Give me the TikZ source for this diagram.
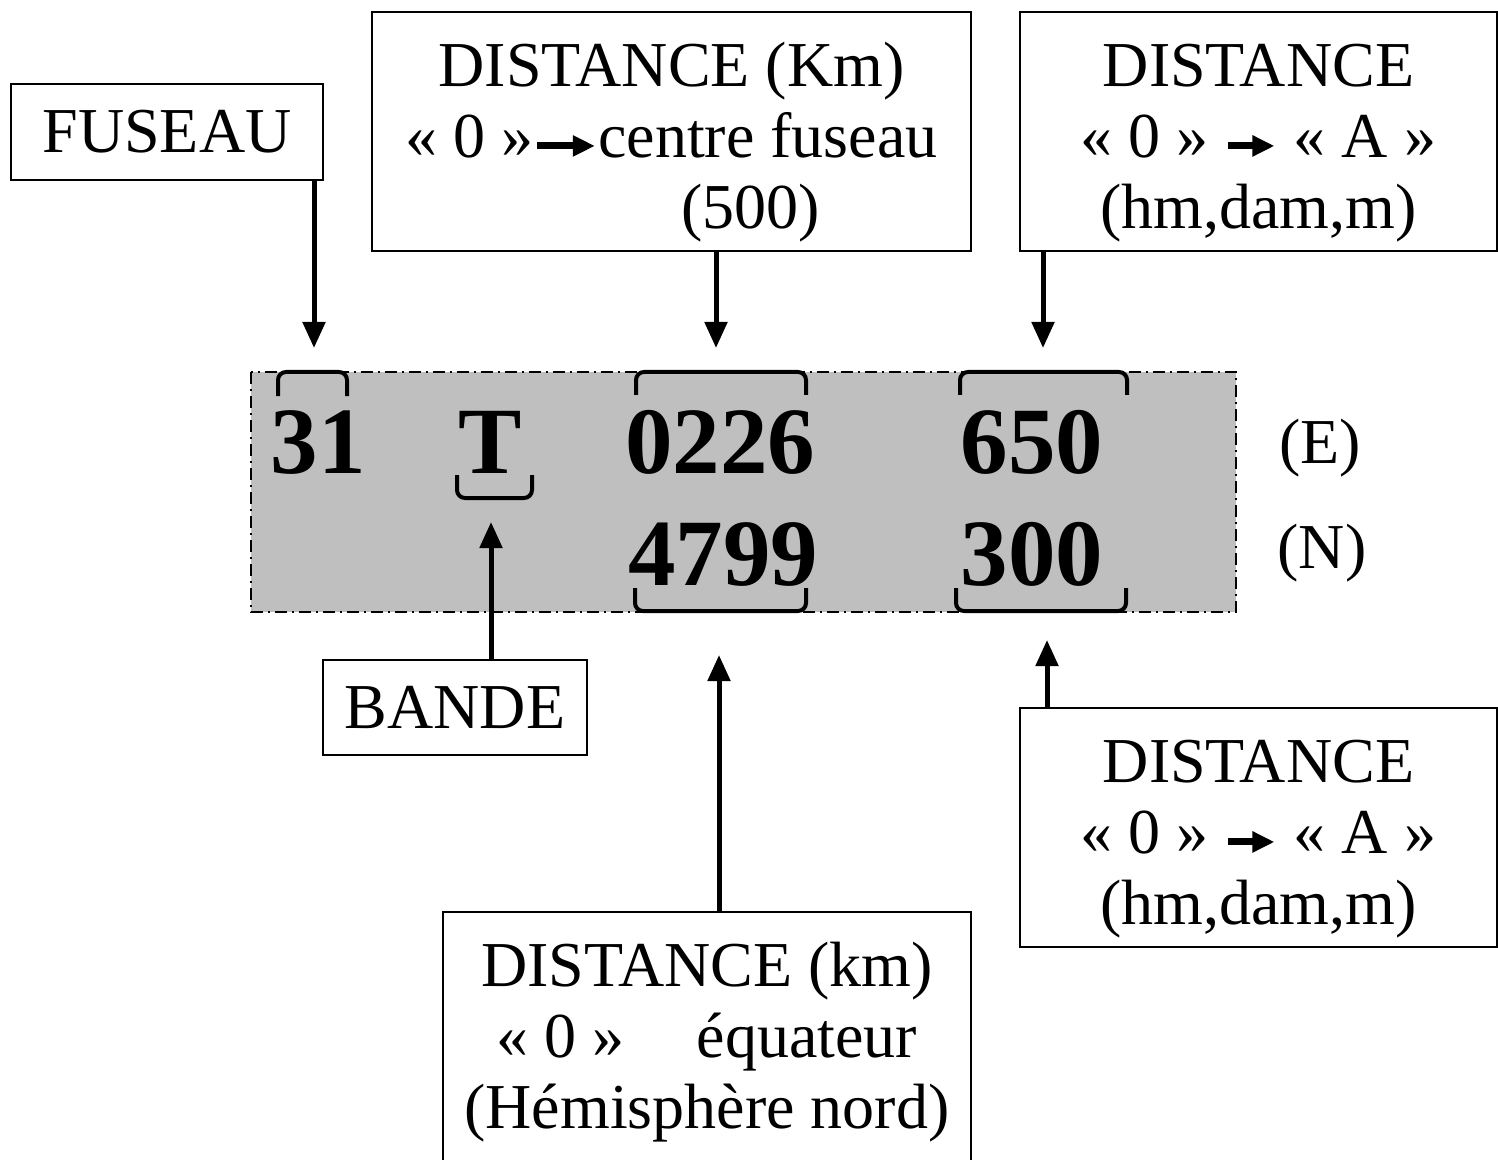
\documentclass[tikz,border=0pt]{standalone}
\usepackage{fontspec}
\setmainfont{Liberation Serif}
\usetikzlibrary{arrows.meta}
% petite fleche dans le texte
\newcommand{\fl}[1]{\tikz[baseline=-0.4ex]\draw[line width=3.5pt,-{Triangle[length=11pt,width=10pt]}] (0,0) -- (#1,0);}
\newcommand{\haut}{\rule{0pt}{33pt}}
\begin{document}
\begin{tikzpicture}[x=0.5pt,y=-0.5pt,
    boite/.style={draw,line width=0.75pt,align=center,inner sep=0pt,font=\fontsize{32}{35.5}\selectfont},
    chiffre/.style={anchor=base,inner sep=0pt,font=\fontsize{47.5}{50}\selectfont\bfseries},
    lettre/.style={anchor=base,inner sep=0pt,font=\fontsize{32}{35.5}\selectfont},
    fleche/.style={line width=2.5pt,-{Triangle[length=13pt,width=11pt]}},
    crochet/.style={line width=2pt,rounded corners=4pt}]
  \useasboundingbox (0,0) rectangle (1498,1160);
  % zone grisee
  \draw[fill=gray!50,line width=0.75pt,dash pattern=on 6pt off 2.5pt on 1pt off 2.5pt]
    (251,372) rectangle (1236,612);
  % coordonnees
  \node[chiffre] (n31) at (318,473) {31};
  \node[chiffre] (nT) at (490,473) {T};
  \node[chiffre] (nX) at (720,473) {0226};
  \node[chiffre] (nXm) at (1032,473) {650};
  \node[chiffre] (nY) at (723,585) {4799};
  \node[chiffre] (nYm) at (1032,585) {300};
  \node[lettre] (nE) at (1320,463) {(E)};
  \node[lettre] (nN) at (1322,568) {(N)};
  % crochets
  \draw[crochet] (278,396) -- (278,372) -- (347,372) -- (347,396);
  \draw[crochet] (457,475) -- (457,498) -- (532,498) -- (532,475);
  \draw[crochet] (636,395) -- (636,372) -- (806,372) -- (806,395);
  \draw[crochet] (960,395) -- (960,372) -- (1127,372) -- (1127,395);
  \draw[crochet] (635,588) -- (635,611) -- (806,611) -- (806,588);
  \draw[crochet] (956,588) -- (956,611) -- (1126,611) -- (1126,588);
  % boites
  \node[boite,minimum width=156pt,minimum height=48pt] (fuseau) at (167,132) {FUSEAU};
  \node[boite,minimum width=299.5pt,minimum height=119.5pt] (distkm) at (671.5,131.5)
    {\haut DISTANCE (Km)\\ « 0 »\fl{29pt}centre fuseau\\ \hspace*{79pt}(500)};
  \node[boite,minimum width=238.5pt,minimum height=119.5pt] (distE) at (1258.5,131.5)
    {\haut DISTANCE\\ « 0 » \fl{23pt} « A »\\ (hm,dam,m)};
  \node[boite,minimum width=132pt,minimum height=47.5pt] (bande) at (455,707.5) {BANDE};
  \node[boite,minimum width=238.5pt,minimum height=119.5pt] (distN) at (1258.5,827.5)
    {\haut DISTANCE\\ « 0 » \fl{23pt} « A »\\ (hm,dam,m)};
  \node[boite,minimum width=264pt,minimum height=130pt] (equat) at (707,1042)
    {DISTANCE (km)\\ « 0 »\hspace{36pt}équateur\\ (Hémisphère nord)};
  % fleches
  \coordinate (a1) at (314,348);
  \coordinate (a2) at (716,348);
  \coordinate (a3) at (1043,348);
  \coordinate (a4) at (491,522);
  \coordinate (a5) at (719,655);
  \coordinate (a6) at (1047,640);
  \draw[fleche] (fuseau.south -| a1) -- (a1);
  \draw[fleche] (distkm.south -| a2) -- (a2);
  \draw[fleche] (distE.south -| a3) -- (a3);
  \draw[fleche] (bande.north -| a4) -- (a4);
  \draw[fleche] (equat.north -| a5) -- (a5);
  \draw[fleche] (distN.north -| a6) -- (a6);
\end{tikzpicture}
\end{document}
